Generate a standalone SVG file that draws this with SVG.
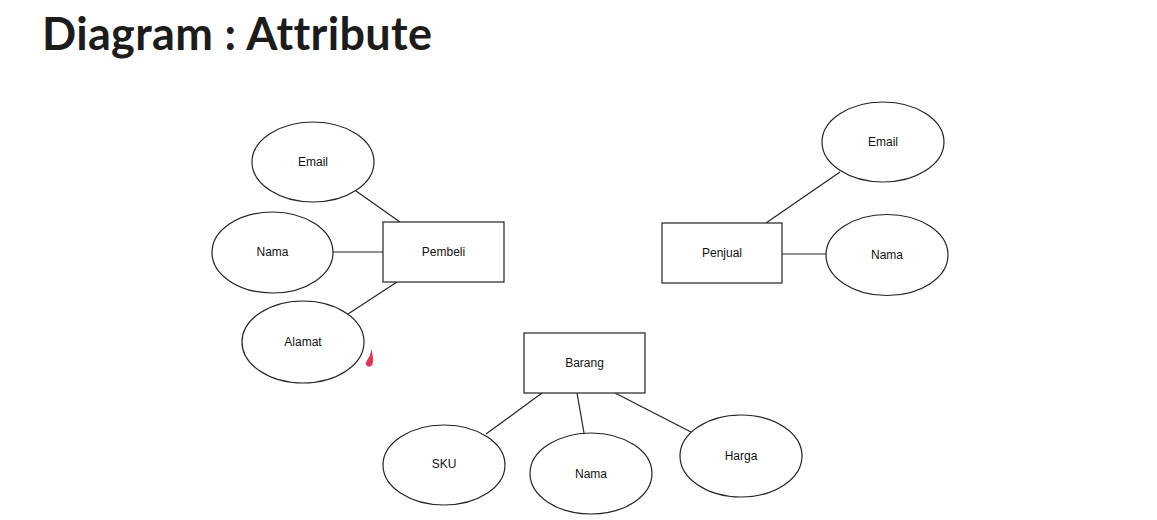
<svg xmlns="http://www.w3.org/2000/svg" width="1157" height="520" viewBox="0 0 1157 520">
<style>
.t{font-family:"Lato","Inter","Liberation Sans",sans-serif;font-weight:700;font-size:45px;fill:#1c1c1c;font-variant-ligatures:none}
.shape{fill:#fff;stroke:#222;stroke-width:1.2}
.lbl{font-family:"Liberation Sans",Arial,sans-serif;font-size:12px;fill:#111;text-anchor:middle;dominant-baseline:central}
.edge{stroke:#222;stroke-width:1.2;fill:none}
</style>
<rect width="1157" height="520" fill="#fff"/>
<text class="t" x="42" y="50" textLength="390" lengthAdjust="spacing">Diagram : Attribute</text>
<g id="connectors">
<line class="edge" x1="356" y1="191" x2="400" y2="222"/>
<line class="edge" x1="333" y1="252" x2="383" y2="252"/>
<line class="edge" x1="397" y1="282" x2="348" y2="314"/>
<line class="edge" x1="766" y1="223" x2="840" y2="172"/>
<line class="edge" x1="782" y1="254" x2="826" y2="254"/>
<line class="edge" x1="542" y1="393" x2="486" y2="434"/>
<line class="edge" x1="577" y1="393" x2="584" y2="433"/>
<line class="edge" x1="615" y1="393" x2="691" y2="432"/>
</g>
<g id="pembeli"><rect class="shape" x="383" y="222" width="121" height="60"/><text class="lbl" x="443.5" y="252">Pembeli</text></g>
<g id="pembeli-email"><ellipse class="shape" cx="313" cy="162" rx="61" ry="40"/><text class="lbl" x="313" y="162">Email</text></g>
<g id="pembeli-nama"><ellipse class="shape" cx="272.5" cy="252.5" rx="60.5" ry="40.5"/><text class="lbl" x="272.5" y="252">Nama</text></g>
<g id="pembeli-alamat"><ellipse class="shape" cx="303" cy="342" rx="61" ry="41"/><text class="lbl" x="303" y="342">Alamat</text></g>
<g id="penjual"><rect class="shape" x="662" y="223" width="120" height="60"/><text class="lbl" x="722" y="253">Penjual</text></g>
<g id="penjual-email"><ellipse class="shape" cx="883" cy="142" rx="61" ry="40"/><text class="lbl" x="883" y="142">Email</text></g>
<g id="penjual-nama"><ellipse class="shape" cx="887" cy="255" rx="61" ry="40.5"/><text class="lbl" x="887" y="255">Nama</text></g>
<g id="barang"><rect class="shape" x="524" y="333" width="121" height="60"/><text class="lbl" x="584.5" y="363">Barang</text></g>
<g id="barang-sku"><ellipse class="shape" cx="444" cy="465" rx="61" ry="40"/><text class="lbl" x="444" y="464">SKU</text></g>
<g id="barang-nama"><ellipse class="shape" cx="591" cy="473.5" rx="61" ry="40.5"/><text class="lbl" x="591" y="474">Nama</text></g>
<g id="barang-harga"><ellipse class="shape" cx="741" cy="456" rx="61" ry="41"/><text class="lbl" x="741" y="456">Harga</text></g>
<path d="M371.5,349 C372.5,354 374,359 372.5,364 C371.5,367.5 366.5,367.5 366,364 C365.5,361 369,358 370,355 Z" fill="#e0204a" opacity="0.9"/>
</svg>
